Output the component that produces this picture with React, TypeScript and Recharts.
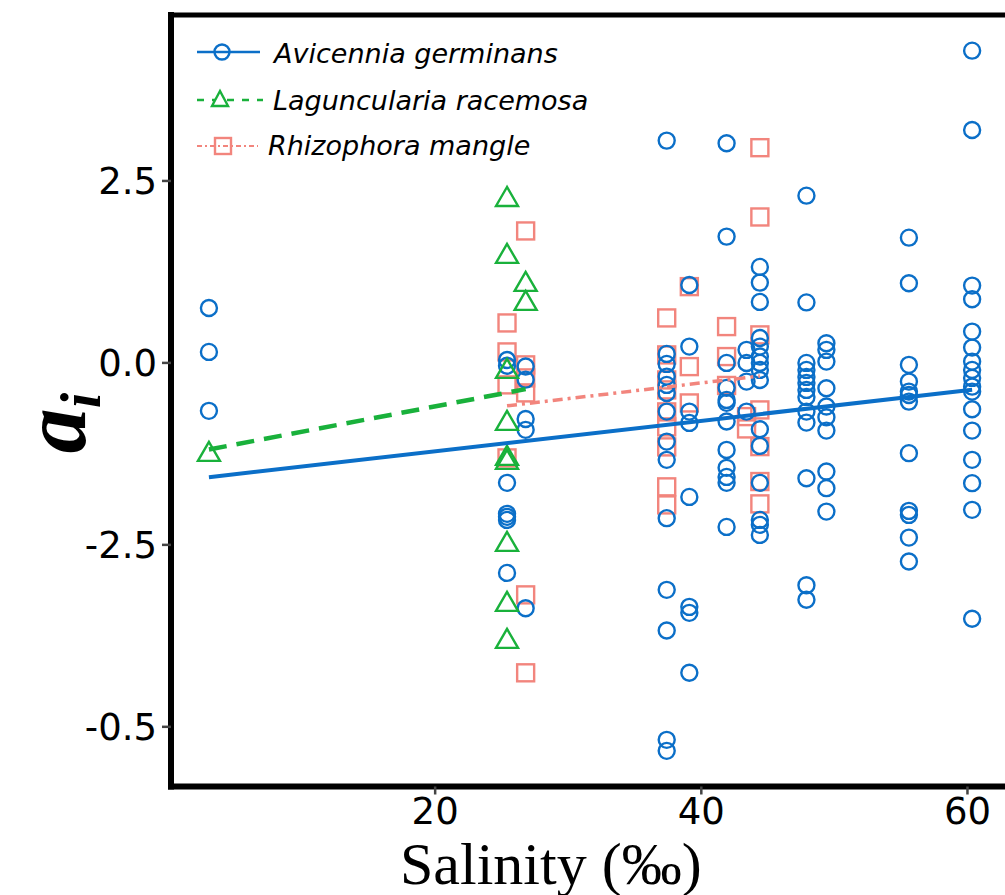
import { ScatterChart, Scatter, XAxis, YAxis, Legend, ReferenceLine } from "recharts";

// salinity of each sampling site (‰)
const salinitySites = [3.0, 25.4, 26.8, 37.4, 39.1, 41.9, 43.4, 44.4, 47.9, 49.4, 55.6, 60.35];

// alpha_i values per site, one row per entry of salinitySites
const avicenniaAlpha = [
  [0.755, 0.151, -0.659],
  [0.04, -0.04, -1.648, -2.074, -2.115, -2.157, -2.885],
  [-0.05, -0.23, -0.77, -0.92, -3.37],
  [3.054, 0.124, -0.014, -0.188, -0.302, -0.412, -0.669, -1.081, -1.332, -2.133, -3.118, -3.677, -5.179, -5.33],
  [1.071, 0.224, -0.669, -0.824, -1.841, -3.352, -3.434, -4.258],
  [3.018, 1.735, 0.0, -0.343, -0.508, -0.549, -0.806, -1.195, -1.442, -1.566, -1.648, -2.253],
  [0.179, 0.0, -0.257, -0.669],
  [1.319, 1.103, 0.838, 0.343, 0.224, 0.087, 0.0, -0.096, -0.234, -0.911, -1.14, -1.648, -2.157, -2.225, -2.363],
  [2.298, 0.831, 0.0, -0.096, -0.192, -0.275, -0.371, -0.467, -0.669, -0.82, -1.584, -3.054, -3.255],
  [0.271, 0.179, 0.018, -0.348, -0.6, -0.746, -0.93, -1.493, -1.721, -2.043],
  [1.721, 1.095, -0.027, -0.257, -0.394, -0.44, -0.532, -1.24, -2.033, -2.088, -2.4, -2.729],
  [4.29, 3.2, 1.062, 0.875, 0.43, 0.21, 0.018, -0.096, -0.206, -0.326, -0.394, -0.636, -0.93, -1.332, -1.652, -2.019, -3.516],
];

const lagunculariaSites = [3.0, 25.4, 26.8];
const lagunculariaAlpha = [
  [-1.236],
  [2.266, 1.484, -0.096, -0.81, -1.291, -1.346, -2.473, -3.297, -3.805],
  [1.099, 0.838],
];

const rhizophoraSites = [25.4, 26.8, 37.4, 39.1, 41.9, 43.4, 44.4];
const rhizophoraAlpha = [
  [0.549, 0.151, -0.302, -1.305],
  [1.813, -0.027, -0.206, -0.412, -3.187, -4.258],
  [0.618, 0.11, -0.234, -0.371, -0.673, -0.879, -1.154, -1.703, -1.951],
  [1.048, -0.051, -0.55],
  [0.499, 0.087, -0.31],
  [-0.738, -0.907],
  [2.957, 2.005, 0.385, -0.646, -1.15, -1.63, -1.937],
];

// fitted lines (end points)
const avicenniaFitX = [3.0, 60.35];
const avicenniaFitY = [-1.57, -0.37];
const lagunculariaFitX = [3.0, 26.8];
const lagunculariaFitY = [-1.19, -0.36];
const rhizophoraFitX = [25.4, 44.4];
const rhizophoraFitY = [-0.59, -0.18];

const xTicks = [20, 40, 60];
const yTicks = [2.5, 0, -2.5, -5];
const yTickLabels = ["2.5", "0.0", "-2.5", "-0.5"];

const X_DOMAIN = [0.15, 65];
const Y_DOMAIN = [-5.82, 4.78];

const BLUE = "#0B6FC8";
const GREEN = "#19B13B";
const RED = "#F2857D";

const toPoints = (sites: number[], values: number[][]) =>
  sites.flatMap((x, i) => values[i].map((y) => ({ x, y })));
const toLine = (xs: number[], ys: number[]) => xs.map((x, i) => ({ x, y: ys[i] }));

const avicenniaPoints = toPoints(salinitySites, avicenniaAlpha);
const lagunculariaPoints = toPoints(lagunculariaSites, lagunculariaAlpha);
const rhizophoraPoints = toPoints(rhizophoraSites, rhizophoraAlpha);

const circleShape = (p: any) => (
  <circle cx={p.cx} cy={p.cy} r={8} fill="none" stroke={BLUE} strokeWidth={2.4} />
);
const triangleShape = (p: any) => (
  <polygon
    points={`${p.cx},${p.cy - 11} ${p.cx - 11},${p.cy + 8} ${p.cx + 11},${p.cy + 8}`}
    fill="none"
    stroke={GREEN}
    strokeWidth={2.4}
  />
);
const squareShape = (p: any) => (
  <rect x={p.cx - 8.5} y={p.cy - 8.5} width={17} height={17} fill="none" stroke={RED} strokeWidth={2.4} />
);
const noShape = () => <g />;

const legendFont = { fontFamily: "DejaVu Sans", fontStyle: "italic", fontSize: 27, fill: "#000" };

const LegendBox = () => (
  <svg width={620} height={170} style={{ display: "block" }}>
    <line x1={197} y1={52} x2={260} y2={52} stroke={BLUE} strokeWidth={2.5} />
    <circle cx={222} cy={52} r={7.5} fill="#fff" fillOpacity={0} stroke={BLUE} strokeWidth={2.4} />
    <text x={274} y={63} {...legendFont}>Avicennia germinans</text>

    <line x1={197} y1={100} x2={263} y2={100} stroke={GREEN} strokeWidth={2.5} strokeDasharray="7 8" />
    <polygon points="220,91 212,106 228,106" fill="#fff" stroke={GREEN} strokeWidth={2.4} />
    <text x={273} y={110} {...legendFont}>Laguncularia racemosa</text>

    <line x1={197} y1={146} x2={258} y2={146} stroke={RED} strokeWidth={2.2} strokeDasharray="5 3 2 3" />
    <rect x={215} y={138} width={16} height={16} fill="none" stroke={RED} strokeWidth={2.4} />
    <text x={268} y={155} {...legendFont}>Rhizophora mangle</text>
  </svg>
);

const YLabel = (props: any) => {
  const vb = props.viewBox || { x: 71, y: 15 };
  const x = vb.x + 14;
  const y = vb.y + 408;
  return (
    <text
      transform={`translate(${x},${y}) rotate(-90)`}
      textAnchor="middle"
      fontFamily="Liberation Serif"
      fontStyle="italic"
      fontWeight="bold"
      fontSize={90}
      fill="#000"
    >
      a
      <tspan fontSize={56} dy={15}>i</tspan>
    </text>
  );
};

const XLabel = (props: any) => {
  const vb = props.viewBox || { x: 171, y: 786 };
  return (
    <text x={vb.x + 229} y={vb.y + 97} fontFamily="Liberation Serif" fontSize={60} fill="#000">
      Salinity (‰)
    </text>
  );
};

export default function App() {
  return (
    <div
      style={{
        position: "absolute",
        left: 0,
        top: 0,
        width: 1005,
        height: 895,
        overflow: "hidden",
        background: "#fff",
      }}
    >
      <ScatterChart width={1034} height={895} margin={{ top: 15, right: 0, bottom: 48.5, left: 71 }}>
        <XAxis
          type="number"
          dataKey="x"
          domain={X_DOMAIN}
          allowDataOverflow
          ticks={xTicks}
          height={60}
          tickSize={8}
          tickMargin={3}
          axisLine={{ stroke: "#000", strokeWidth: 6, strokeLinecap: "square" }}
          tickLine={{ stroke: "#444", strokeWidth: 2.5 }}
          tick={{ fontSize: 37, fill: "#000", fontFamily: "DejaVu Sans" }}
          label={<XLabel />}
        />
        <YAxis
          type="number"
          dataKey="y"
          domain={Y_DOMAIN}
          allowDataOverflow
          ticks={yTicks}
          tickFormatter={(v: number) => yTickLabels[yTicks.indexOf(v)]}
          width={100}
          tickSize={9}
          tickMargin={5}
          axisLine={{ stroke: "#000", strokeWidth: 6, strokeLinecap: "square" }}
          tickLine={{ stroke: "#444", strokeWidth: 2.5 }}
          tick={{ fontSize: 37, fill: "#000", fontFamily: "DejaVu Sans" }}
          label={<YLabel />}
        />
        {/* top border of the panel */}
        <ReferenceLine y={Y_DOMAIN[1]} stroke="#000" strokeWidth={5} ifOverflow="visible" />
        <Scatter data={rhizophoraPoints} shape={squareShape} isAnimationActive={false} legendType="none" />
        <Scatter data={avicenniaPoints} shape={circleShape} isAnimationActive={false} legendType="none" />
        <Scatter data={lagunculariaPoints} shape={triangleShape} isAnimationActive={false} legendType="none" />
        <Scatter
          data={toLine(avicenniaFitX, avicenniaFitY)}
          shape={noShape}
          fill={BLUE}
          line={{ stroke: BLUE, strokeWidth: 4 }}
          isAnimationActive={false}
          legendType="none"
        />
        <Scatter
          data={toLine(lagunculariaFitX, lagunculariaFitY)}
          shape={noShape}
          fill={GREEN}
          line={{ stroke: GREEN, strokeWidth: 4.5, strokeDasharray: "18 10" }}
          isAnimationActive={false}
          legendType="none"
        />
        <Scatter
          data={toLine(rhizophoraFitX, rhizophoraFitY)}
          shape={noShape}
          fill={RED}
          line={{ stroke: RED, strokeWidth: 3.5, strokeDasharray: "10 5 3 5" }}
          isAnimationActive={false}
          legendType="none"
        />
        <Legend
          layout="horizontal"
          verticalAlign="middle"
          align="center"
          wrapperStyle={{ left: 0, top: 0, width: 620, height: 170 }}
          content={() => <LegendBox />}
        />
      </ScatterChart>
    </div>
  );
}
